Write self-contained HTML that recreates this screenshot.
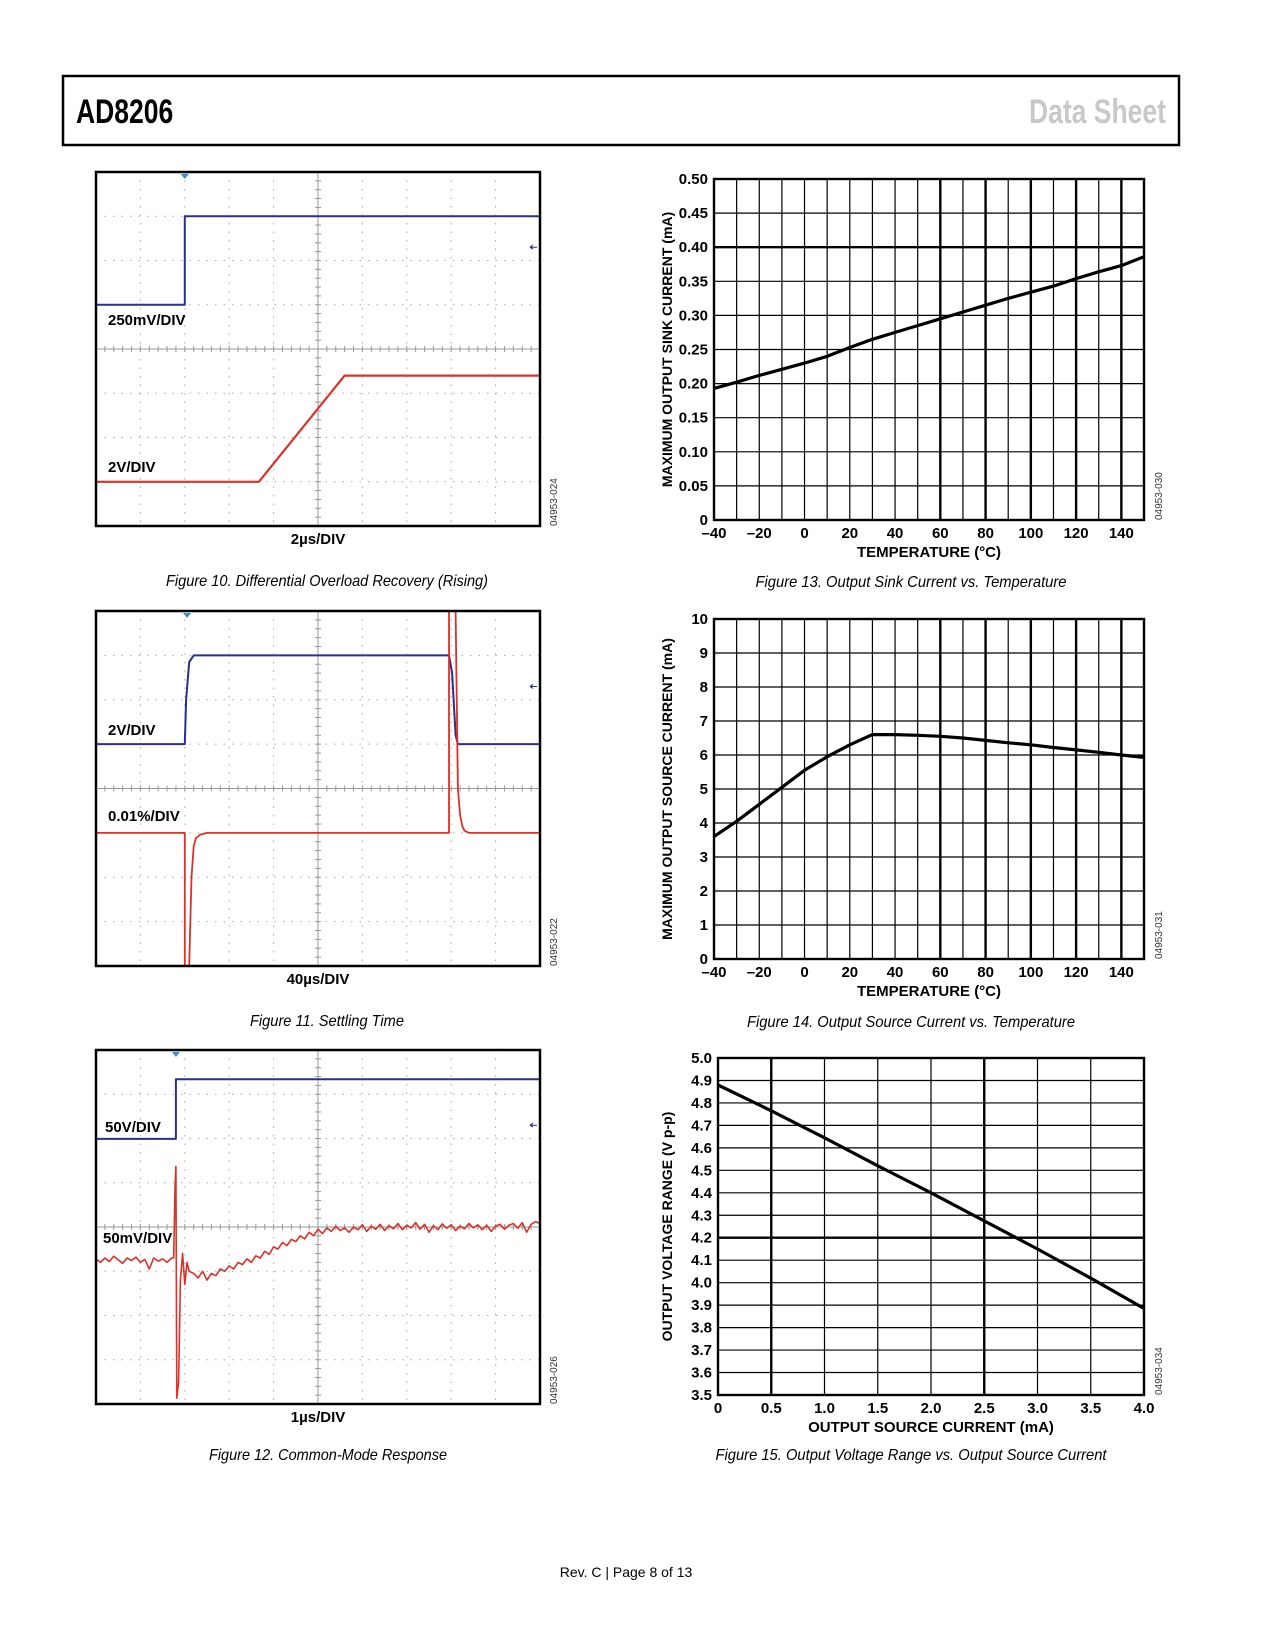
<!DOCTYPE html>
<html><head><meta charset="utf-8"><style>
html,body{margin:0;padding:0;background:#fff;}
svg{display:block;}
text{font-family:"Liberation Sans Narrow","Liberation Sans",sans-serif;}
</style></head><body>
<svg id="pg" width="1275" height="1650" viewBox="0 0 1275 1650" xmlns="http://www.w3.org/2000/svg">
<rect x="63" y="76" width="1116" height="69" fill="none" stroke="#000" stroke-width="2.5"/>
<text x="0" y="0" font-size="34" font-weight="bold" fill="#000" transform="translate(76,123) scale(0.78,1)">AD8206</text>
<text x="0" y="0" font-size="34" font-weight="bold" fill="#c8c8c8" text-anchor="end" transform="translate(1166,123) scale(0.78,1)">Data Sheet</text>
<text x="626" y="1577" font-size="14" text-anchor="middle" font-family="Liberation Sans, sans-serif">Rev. C | Page 8 of 13</text>
<g id="layer"></g>
</svg>
<script>
// ---- Data ----
// Fig 10 (division units: x 0..10, y -4..4)
const f10BlueT = [0, 2, 2, 10];
const f10BlueV = [1, 1, 3, 3];
const f10RedT = [0, 3.67, 5.6, 10];
const f10RedV = [-3, -3, -0.6, -0.6];
// Fig 11
const f11BlueT = [0, 2.0, 2.03, 2.1, 2.2, 7.95, 8.02, 8.1, 8.15, 10];
const f11BlueV = [1, 1, 2.0, 2.85, 3, 3, 2.6, 1.2, 1, 1];
const f11RedT = [0, 2.0, 2.0, 2.1, 2.15, 2.2, 2.25, 2.35, 2.5, 7.95, 7.95, 8.1, 8.15, 8.2, 8.25, 8.3, 8.4, 10];
const f11RedV = [-1, -1, -4, -4, -2.0, -1.3, -1.12, -1.04, -1.0, -1.0, 4, 4, 0.0, -0.6, -0.85, -0.95, -1.0, -1.0];
// Fig 12
const f12BlueT = [0, 1.8, 1.8, 10];
const f12BlueV = [1.99, 1.99, 3.34, 3.34];
const f12RedPreT = [0,0.1,0.2,0.3,0.4,0.5,0.6,0.7,0.8,0.9,1.0,1.1,1.2,1.3,1.4,1.5,1.6,1.7,1.75,1.78,1.8,1.82,1.86,1.9,1.95,2.0,2.05,2.1];
const f12RedPreV = [-0.72,-0.8,-0.7,-0.78,-0.66,-0.74,-0.82,-0.7,-0.76,-0.68,-0.8,-0.73,-0.95,-0.7,-0.77,-0.72,-0.8,-0.7,-0.7,0.9,1.37,-3.87,-3.5,-1.2,-0.6,-1.3,-0.8,-1.0];
const f12RedStart = 2.2, f12RedStep = 0.1;
const f12RedV = [-1.05,-1.15,-1.0,-1.2,-1.05,-1.1,-0.95,-1.0,-0.88,-0.95,-0.8,-0.85,-0.72,-0.8,-0.65,-0.7,-0.55,-0.62,-0.45,-0.5,-0.35,-0.42,-0.28,-0.33,-0.2,-0.27,-0.12,-0.2,-0.05,-0.15,-0.02,-0.1,0.02,-0.08,-0.02,-0.12,0.0,-0.06,0.05,-0.1,0.02,-0.05,0.06,-0.08,0.03,-0.04,0.08,-0.06,0.04,-0.02,0.1,-0.05,0.06,-0.12,0.03,-0.06,0.07,-0.03,0.05,-0.08,0.02,-0.04,0.08,-0.02,0.05,-0.06,0.04,-0.1,0.02,0.06,-0.05,0.04,0.08,-0.03,0.1,-0.12,0.06,0.12,0.08];
// Fig 13
const f13Temp = [-40,-30,-20,-10,0,10,20,30,40,50,60,70,80,90,100,110,120,130,140,150];
const f13Sink = [0.193,0.202,0.212,0.221,0.230,0.240,0.253,0.265,0.275,0.285,0.295,0.305,0.315,0.325,0.334,0.343,0.354,0.364,0.373,0.386];
const f13YTicks = ["0","0.05","0.10","0.15","0.20","0.25","0.30","0.35","0.40","0.45","0.50"];
const tempTicks = ["\u201340","\u201320","0","20","40","60","80","100","120","140"];
// Fig 14
const f14Temp = [-40,-30,-20,-10,0,10,20,30,40,50,60,70,80,90,100,110,120,130,140,150];
const f14Source = [3.6,4.05,4.55,5.05,5.55,5.95,6.3,6.6,6.6,6.58,6.55,6.5,6.43,6.36,6.3,6.22,6.15,6.08,6.0,5.93];
const f14YTicks = ["0","1","2","3","4","5","6","7","8","9","10"];
// Fig 15
const f15Cur = [0,0.5,1.0,1.5,2.0,2.5,3.0,3.5,4.0];
const f15Volt = [4.88,4.765,4.645,4.52,4.40,4.275,4.15,4.02,3.885];
const f15YTicks = ["3.5","3.6","3.7","3.8","3.9","4.0","4.1","4.2","4.3","4.4","4.5","4.6","4.7","4.8","4.9","5.0"];
const f15XTicks = ["0","0.5","1.0","1.5","2.0","2.5","3.0","3.5","4.0"];

const NS = "http://www.w3.org/2000/svg";
const layer = document.getElementById('layer');
function el(tag, attrs, parent) {
  const e = document.createElementNS(NS, tag);
  for (const k in attrs) e.setAttribute(k, attrs[k]);
  (parent || layer).appendChild(e);
  return e;
}
function txt(s, attrs, parent) { const t = el('text', attrs, parent); t.textContent = s; return t; }

function scope(x0, y0, w, h, traces, labels, tb, caption, capW, code, trig) {
  const g = el('g', {});
  
  
  const sx = d => x0 + d * w / 10;
  const sy = d => y0 + h / 2 - d * h / 8;
  for (let i = 1; i < 10; i++) {
    if (i === 5) continue;
    const l = el('line', {x1: sx(i), x2: sx(i), y1: y0, y2: y0 + h, stroke: '#aaa', 'stroke-width': 1, 'stroke-dasharray': '1.5,7'}, g);
    
    
  }
  for (let j = 1; j < 8; j++) {
    if (j === 4) continue;
    const l = el('line', {x1: x0, x2: x0 + w, y1: y0 + j * h / 8, y2: y0 + j * h / 8, stroke: '#aaa', 'stroke-width': 1, 'stroke-dasharray': '1.5,7'}, g);
    
    
  }
  el('line', {x1: sx(5), x2: sx(5), y1: y0, y2: y0 + h, stroke: '#999', 'stroke-width': 1}, g);
  el('line', {x1: x0, x2: x0 + w, y1: sy(0), y2: sy(0), stroke: '#999', 'stroke-width': 1}, g);
  for (let k = 1; k < 50; k++) {
    el('line', {x1: sx(k / 5), x2: sx(k / 5), y1: sy(0) - 3, y2: sy(0) + 3, stroke: '#999', 'stroke-width': 1}, g);
  }
  for (let k = 1; k < 40; k++) {
    el('line', {x1: sx(5) - 3, x2: sx(5) + 3, y1: y0 + k * h / 40, y2: y0 + k * h / 40, stroke: '#999', 'stroke-width': 1}, g);
  }
  traces.forEach(tr => {
    let d = '';
    tr.t.forEach((t, i) => { d += (i ? 'L' : 'M') + sx(t).toFixed(1) + ',' + sy(Math.max(-4, Math.min(4, tr.v[i]))).toFixed(1); });
    const p = el('path', {d: d, fill: 'none', stroke: tr.c, 'stroke-width': tr.w || 2, 'stroke-linejoin': 'round'}, g);
    
    
  });
  el('path', {d: `M${sx(trig)-4},${y0+2} L${sx(trig)+4},${y0+2} L${sx(trig)},${y0+7} Z`, fill: '#3a8fd0'}, g);
  el('path', {d: `M${x0+w-10},${sy(2.3)} L${x0+w-3},${sy(2.3)} M${x0+w-10},${sy(2.3)} l3,-2 M${x0+w-10},${sy(2.3)} l3,2`, stroke: '#2a2a8a', 'stroke-width': 1, fill: 'none'}, g);
  const b = el('rect', {x: x0, y: y0, width: w, height: h, fill: 'none', stroke: '#000', 'stroke-width': 2.5}, g);
  
  
  labels.forEach(L => {
    const t = txt(L.s, {x: L.x, y: L.y, 'font-size': 15, 'font-weight': 'bold'}, g);
    
    
  });
  const tt = txt(tb, {x: x0 + w / 2, y: y0 + h + 18, 'font-size': 15, 'font-weight': 'bold', 'text-anchor': 'middle'}, g);
  
  
  const cd = txt(code, {x: 0, y: 0, 'font-size': 10, fill: '#333', transform: `translate(${x0 + w + 17},${y0 + h}) rotate(-90)`}, g);
  
  
  const cp = txt(caption.s, {x: caption.x, y: caption.y, 'font-size': 16, 'font-style': 'italic', 'text-anchor': 'middle', textLength: capW, lengthAdjust: 'spacingAndGlyphs'}, g);
  
  
}

function chart(o) {
  const g = el('g', {});
  
  
  const sx = v => o.x0 + (v - o.xmin) / (o.xmax - o.xmin) * o.w;
  const sy = v => o.y0 + o.h - (v - o.ymin) / (o.ymax - o.ymin) * o.h;
  for (let v = o.xmin; v <= o.xmax + 1e-9; v += o.xgrid) {
    const thick = o.thickX.some(t => Math.abs(t - v) < 1e-6);
    const l = el('line', {x1: sx(v), x2: sx(v), y1: o.y0, y2: o.y0 + o.h, stroke: '#000', 'stroke-width': thick ? 2.4 : 1.2}, g);
    
    
  }
  for (let v = o.ymin; v <= o.ymax + 1e-9; v += o.ygrid) {
    const thick = o.thickY.some(t => Math.abs(t - v) < 1e-6);
    const l = el('line', {x1: o.x0, x2: o.x0 + o.w, y1: sy(v), y2: sy(v), stroke: '#000', 'stroke-width': thick ? 2.4 : 1.2}, g);
    
    
  }
  el('rect', {x: o.x0, y: o.y0, width: o.w, height: o.h, fill: 'none', stroke: '#000', 'stroke-width': 2.4}, g);
  o.yTicks.forEach((s, i) => {
    const t = txt(s, {x: o.x0 - 6, y: sy(o.ymin + i * o.ytickStep) + 5, 'font-size': 15, 'font-weight': 'bold', 'text-anchor': 'end'}, g);
    
    
  });
  o.xTicks.forEach((s, i) => {
    const t = txt(s, {x: sx(o.xmin + i * o.xtickStep), y: o.y0 + o.h + 18, 'font-size': 15, 'font-weight': 'bold', 'text-anchor': 'middle'}, g);
    
    
  });
  const xt = txt(o.xTitle, {x: o.x0 + o.w / 2, y: o.y0 + o.h + 37, 'font-size': 15, 'font-weight': 'bold', 'text-anchor': 'middle'}, g);
  
  
  const yt = txt(o.yTitle, {x: 0, y: 0, 'font-size': 14, 'font-weight': 'bold', 'text-anchor': 'middle', transform: `translate(672,${o.y0 + o.h / 2}) rotate(-90)`}, g);
  
  
  let d = '';
  o.xs.forEach((x, i) => { d += (i ? 'L' : 'M') + sx(x).toFixed(1) + ',' + sy(o.ys[i]).toFixed(1); });
  const p = el('path', {d: d, fill: 'none', stroke: '#000', 'stroke-width': 3.2, 'stroke-linejoin': 'round'}, g);
  
  
  const cd = txt(o.code, {x: 0, y: 0, 'font-size': 10, fill: '#333', transform: `translate(${o.x0 + o.w + 18},${o.y0 + o.h}) rotate(-90)`}, g);
  
  
  const cp = txt(o.caption, {x: 911, y: o.capY, 'font-size': 16, 'font-style': 'italic', 'text-anchor': 'middle', textLength: o.capW, lengthAdjust: 'spacingAndGlyphs'}, g);
  
  
}

scope(96, 172, 444, 354, [
  {t: f10BlueT, v: f10BlueV, c: '#2b2f8f', w: 2, name: 'input-trace'},
  {t: f10RedT, v: f10RedV, c: '#d8322a', w: 2.2, name: 'output-trace'}
], [{s: '250mV/DIV', x: 108, y: 325}, {s: '2V/DIV', x: 108, y: 472}], '2\u00b5s/DIV',
  {s: 'Figure 10. Differential Overload Recovery (Rising)', x: 327, y: 586}, 322, '04953-024', 2);

scope(96, 611, 444, 355, [
  {t: f11BlueT, v: f11BlueV, c: '#2b2f8f', w: 2, name: 'input-trace'},
  {t: f11RedT, v: f11RedV, c: '#d8322a', w: 1.8, name: 'settling-trace'}
], [{s: '2V/DIV', x: 108, y: 735}, {s: '0.01%/DIV', x: 108, y: 821}], '40\u00b5s/DIV',
  {s: 'Figure 11. Settling Time', x: 327, y: 1026}, 154, '04953-022', 2.05);

const f12T = f12RedPreT.slice();
const f12V = f12RedPreV.slice();
f12RedV.forEach((v, i) => { f12T.push(f12RedStart + i * f12RedStep); f12V.push(v); });
scope(96, 1050, 444, 354, [
  {t: f12BlueT, v: f12BlueV, c: '#2b2f8f', w: 2, name: 'common-mode-input-trace'},
  {t: f12T, v: f12V, c: '#d8322a', w: 1.6, name: 'output-trace'}
], [{s: '50V/DIV', x: 105, y: 1132}, {s: '50mV/DIV', x: 103, y: 1243}], '1\u00b5s/DIV',
  {s: 'Figure 12. Common-Mode Response', x: 328, y: 1460}, 238, '04953-026', 1.8);

chart({name: 'sink-current-chart', x0: 714, y0: 179, w: 430, h: 341, xmin: -40, xmax: 150, ymin: 0, ymax: 0.5,
  xgrid: 10, ygrid: 0.05, thickX: [60, 80, 100, 120, 140], thickY: [0.4],
  yTicks: f13YTicks, ytickStep: 0.05, xTicks: tempTicks, xtickStep: 20,
  xTitle: 'TEMPERATURE (\u00b0C)', yTitle: 'MAXIMUM OUTPUT SINK CURRENT (mA)',
  xs: f13Temp, ys: f13Sink, code: '04953-030', caption: 'Figure 13. Output Sink Current vs. Temperature', capY: 587, capW: 311});

chart({name: 'source-current-chart', x0: 714, y0: 619, w: 430, h: 340, xmin: -40, xmax: 150, ymin: 0, ymax: 10,
  xgrid: 10, ygrid: 1, thickX: [60, 80, 100, 120, 140], thickY: [],
  yTicks: f14YTicks, ytickStep: 1, xTicks: tempTicks, xtickStep: 20,
  xTitle: 'TEMPERATURE (\u00b0C)', yTitle: 'MAXIMUM OUTPUT SOURCE CURRENT (mA)',
  xs: f14Temp, ys: f14Source, code: '04953-031', caption: 'Figure 14. Output Source Current vs. Temperature', capY: 1027, capW: 328});

chart({name: 'voltage-range-chart', x0: 718, y0: 1058, w: 426, h: 337, xmin: 0, xmax: 4, ymin: 3.5, ymax: 5.0,
  xgrid: 0.5, ygrid: 0.1, thickX: [0.5, 2.5], thickY: [4.2],
  yTicks: f15YTicks, ytickStep: 0.1, xTicks: f15XTicks, xtickStep: 0.5,
  xTitle: 'OUTPUT SOURCE CURRENT (mA)', yTitle: 'OUTPUT VOLTAGE RANGE (V p-p)',
  xs: f15Cur, ys: f15Volt, code: '04953-034', caption: 'Figure 15. Output Voltage Range vs. Output Source Current', capY: 1460, capW: 391});
</script>
</body></html>
